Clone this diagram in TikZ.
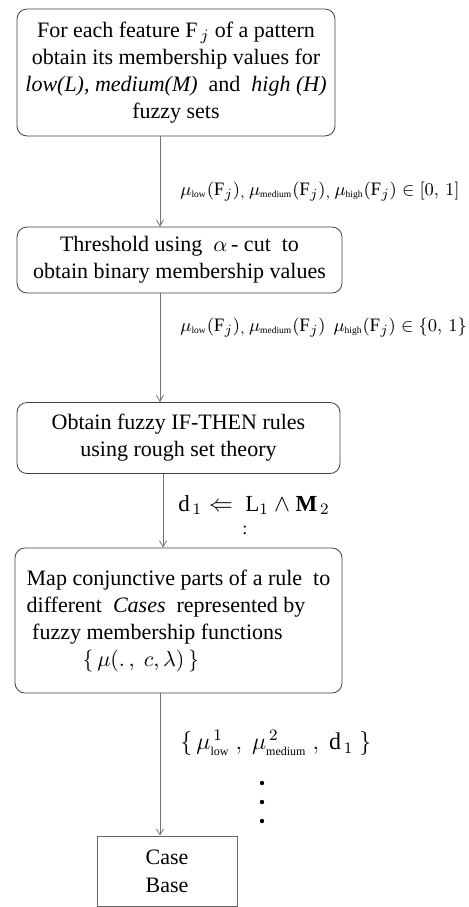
\documentclass[tikz,border=0pt]{standalone}
\usepackage{fontspec}
\setmainfont{Liberation Serif}
\usepackage{amsmath,amssymb}
\usepackage{tikz}
\usetikzlibrary{arrows.meta,calc,positioning}

\tikzset{
  procbox/.style={draw=black!75, rounded corners=5pt, thin, inner sep=2pt,
    font=\fontsize{11}{13.5}\selectfont, align=center},
  casebox/.style={draw=black!60, thin, font=\fontsize{11}{14}\selectfont, align=center},
  flow/.style={-{Straight Barb[length=3pt,width=3.5pt]}, draw=black!55, thin},
  lbl/.style={font=\fontsize{9.5}{11}\selectfont, anchor=west, inner sep=0pt}
}
\newcommand{\msub}[1]{\mathrm{\scriptscriptstyle #1}}

\begin{document}
\begin{tikzpicture}[x=0.5pt,y=-0.5pt]
\useasboundingbox (0,0) rectangle (469,907);
% processing steps
\node[procbox, minimum width=159pt, minimum height=63.5pt] (feat) at (176,72.5)
  {For each feature F$_{\,j}$ of a pattern\\
   obtain its membership values for\\
   \textit{low(L), medium(M)} \ and \ \textit{high (H)}\\
   fuzzy sets};
\node[procbox, minimum width=162.5pt, minimum height=33pt] (thr) at (179.5,260)
  {Threshold using \ $\alpha$\,- cut \ to\\
   obtain binary membership values};
\node[procbox, minimum width=161.5pt, minimum height=35.5pt] (rules) at (178.5,438)
  {Obtain fuzzy IF-THEN rules\\
   using rough set theory};
\node[procbox, align=left, minimum width=163.5pt, minimum height=72.5pt] (map) at (178.5,620.5)
  {Map conjunctive parts of a rule \ to\\
   different \ \textit{Cases} \ represented by\\
   \ fuzzy membership functions\\
   \hspace{28pt}$\{\,\mu(.\,,\ c, \lambda)\,\}$};
\node[casebox, minimum width=70pt, minimum height=35pt] (cb) at (167,871)
  {Case\\Base};

% connectors
\draw[flow] (feat.south -| 160,0) -- (thr.north -| 160,0);
\draw[flow] (thr.south -| 160,0) -- (rules.north -| 160,0);
\draw[flow] (rules.south -| 163,0) -- (map.north -| 163,0);
\draw[flow] (map.south -| 160,0) -- (cb.north -| 160,0);

% data passed between steps
\node[lbl] (m1) at (180,192)
  {$\mu_{\msub{low}}(\mathrm{F}_j)_{,}\,\mu_{\msub{medium}}(\mathrm{F}_j)_{,}\,\mu_{\msub{high}}(\mathrm{F}_j) \in [0,\,1]$};
\node[lbl] (m2) at (180,328)
  {$\mu_{\msub{low}}(\mathrm{F}_j)_{,}\,\mu_{\msub{medium}}(\mathrm{F}_j)\ \,\mu_{\msub{high}}(\mathrm{F}_j) \in \{0,\,1\}$};
\node[lbl, font=\fontsize{11.5}{13}\selectfont] (rl) at (178,505)
  {$\mathrm{d}_{\,1} \Leftarrow \ \mathrm{L}_1 \wedge \mathbf{M}_{\,2}$};
\node[font=\small, inner sep=0pt, below=5pt of rl.south west, xshift=67pt*0.5] (rdots) {:};
\node[lbl, font=\fontsize{12}{14}\selectfont] (cs) at (180,743)
  {$\{\,\mu^{\,1}_{\msub{low}}\ ,\ \mu^{\,2}_{\msub{medium}}\ ,\ \mathrm{d}_{\,1}\ \}$};
\foreach \yy in {783,802,821}
  \fill (262,\yy) circle (1.1pt);
\end{tikzpicture}
\end{document}
